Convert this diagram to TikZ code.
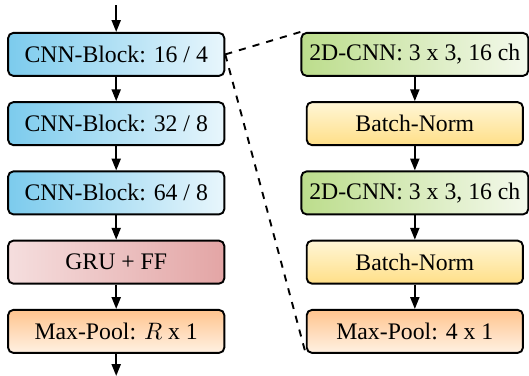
\documentclass[tikz,border=0pt]{standalone}
\usepackage{fontspec}
\setmainfont{Liberation Serif}
\usepackage{tikz}
\usetikzlibrary{arrows,arrows.meta,positioning}
\definecolor{cnndark}{HTML}{7CCBED}
\definecolor{cnnlight}{HTML}{E8F6FC}
\definecolor{grulight}{HTML}{F5DEDE}
\definecolor{grudark}{HTML}{E3A5A5}
\definecolor{pooldark}{HTML}{FFC48E}
\definecolor{poollight}{HTML}{FFF1E3}
\definecolor{bnlight}{HTML}{FFF6D6}
\definecolor{bndark}{HTML}{FFDF88}
\definecolor{convdark}{HTML}{BCDD8C}
\definecolor{convlight}{HTML}{F4F9EC}
\tikzstyle{flow}=[line width=0.8pt,>={Triangle[length=5pt,width=3.8pt]}]
\tikzstyle{layer}=[rectangle, draw, rounded corners=2.2pt,% plain box
line width=0.8pt,minimum width=3.2cm,minimum height=0.636cm]
\tikzstyle{cnnblk}=[layer,left color=cnndark,right color=cnnlight]
\tikzstyle{grublk}=[layer,left color=grulight,right color=grudark]
\tikzstyle{poolblk}=[layer,top color=pooldark,bottom color=poollight]
\tikzstyle{bnblk}=[layer,top color=bnlight,bottom color=bndark]
\tikzstyle{convblk}=[layer,left color=convdark,right color=convlight]
\begin{document}
\begin{tikzpicture}[flow]
\useasboundingbox (0,0) rectangle (7.83,5.565);
%left column
\node[cnnblk] (b1) at (1.72,4.76) {CNN-Block: 16 / 4};
\node[cnnblk] (b2) at (1.72,3.735) {CNN-Block: 32 / 8};
\node[cnnblk] (b3) at (1.72,2.71) {CNN-Block: 64 / 8};
\node[grublk] (gru) at (1.72,1.685) {GRU + FF};
\node[poolblk] (p1) at (1.72,0.66) {Max-Pool: $R$ x 1};
\coordinate (in) at (1.72,5.49);
\coordinate (out) at (1.72,0);
%right column
\node[convblk] (c1) at (6.14,4.76) {2D-CNN: 3 x 3, 16 ch};
\node[bnblk] (n1) at (6.14,3.735) {Batch-Norm};
\node[convblk] (c2) at (6.14,2.71) {2D-CNN: 3 x 3, 16 ch};
\node[bnblk] (n2) at (6.14,1.685) {Batch-Norm};
\node[poolblk] (p2) at (6.14,0.66) {Max-Pool: 4 x 1};
\draw[->] (in) -- (b1); \draw[->] (b1) -- (b2); \draw[->] (b2) -- (b3);
\draw[->] (b3) -- (gru); \draw[->] (gru) -- (p1); \draw[->] (p1) -- (out);
\draw[->] (c1) -- (n1); \draw[->] (n1) -- (c2);
\draw[->] (c2) -- (n2); \draw[->] (n2) -- (p2);
\draw[dashed] (b1.east) -- (c1.north west);
\draw[dashed] (b1.east) -- (p2.south west);
\end{tikzpicture}
\end{document}
